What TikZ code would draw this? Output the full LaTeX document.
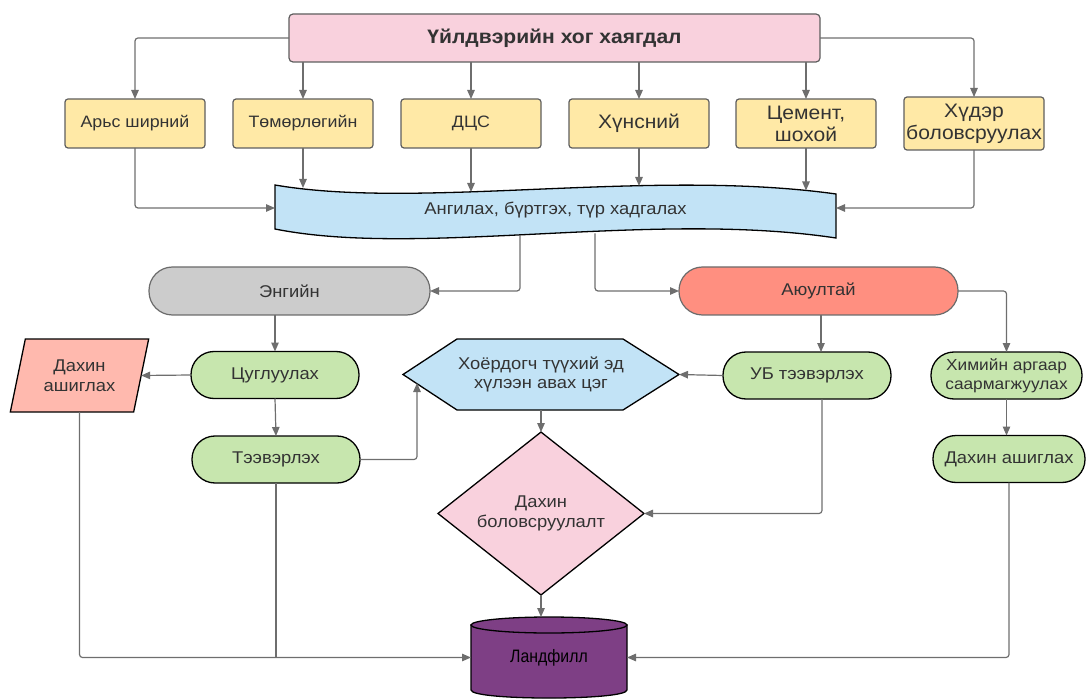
\documentclass[tikz,border=0pt]{standalone}
\usepackage{fontspec}
\setmainfont{Liberation Sans}[FakeStretch=1.08]
\newfontfamily\landfont{Liberation Sans}
\usetikzlibrary{shapes.geometric,shapes.misc,arrows.meta,backgrounds}
\definecolor{txt}{HTML}{333333}
\definecolor{bordg}{HTML}{5E5E5E}
\definecolor{bordo}{HTML}{6B6B6B}
\definecolor{lineg}{HTML}{6E6E6E}
\definecolor{pinkc}{HTML}{F9D1DD}
\definecolor{yel}{HTML}{FFE9A6}
\definecolor{bluec}{HTML}{C2E3F6}
\definecolor{grayc}{HTML}{CCCCCC}
\definecolor{salm}{HTML}{FF8F80}
\definecolor{parac}{HTML}{FFB9AE}
\definecolor{grn}{HTML}{C7E6AE}
\definecolor{purp}{HTML}{7E3F85}
\begin{document}
\begin{tikzpicture}[x=1pt,y=-1pt,
 every node/.style={text=txt, align=center, outer sep=0pt, inner sep=1pt, font=\fontsize{17}{19.5}\selectfont},
 ybox/.style={draw=bordg, fill=yel, rounded corners=3pt, line width=1.2pt, minimum width=140pt, minimum height=49pt},
 pill/.style={rectangle, rounded corners=23pt, draw=black, fill=grn, line width=1.3pt, minimum height=47pt},
 oval/.style={rectangle, rounded corners=23.5pt, draw=bordo, line width=1.2pt, minimum height=48pt},
 conn/.style={draw=lineg, line width=1.2pt, rounded corners=3pt, -{Triangle[length=9pt,width=7.5pt]}},
 plainline/.style={draw=lineg, line width=1.2pt, rounded corners=3pt}]
\useasboundingbox (0,0) rectangle (1086,700);

% top
\node[draw=bordg, fill=pinkc, rounded corners=4pt, line width=1.2pt, minimum width=531pt, minimum height=48pt, font=\bfseries\fontsize{19.5}{22}\selectfont] (top) at (554.5,38) {Үйлдвэрийн хог хаягдал};

% categories
\node[ybox, font=\fontsize{16.5}{19}\selectfont] (b1) at (135,123.5) {Арьс ширний};
\node[ybox, font=\fontsize{16.5}{19}\selectfont] (b2) at (303,123.5) {Төмөрлөгийн};
\node[ybox, font=\fontsize{16.5}{19}\selectfont] (b3) at (471,123.5) {ДЦС};
\node[ybox, font=\fontsize{19.5}{22}\selectfont] (b4) at (639,123.5) {Хүнсний};
\node[ybox, font=\fontsize{19.5}{22}\selectfont] (b5) at (806,123.5) {Цемент,\\шохой};
\node[ybox, font=\fontsize{19.5}{22}\selectfont, minimum height=53pt, inner sep=0pt] (b6) at (974,123.5) {Хүдэр\\боловсруулах};

% wave
\node[minimum width=561pt, minimum height=44pt] (wave) at (555.5,210) {Ангилах, бүртгэх, түр хадгалах};
\coordinate (w1) at (275,208);
\coordinate (w2) at (303,188);
\coordinate (w3) at (471,192);
\coordinate (w4) at (639,186);
\coordinate (w5) at (806,190.5);
\coordinate (w6) at (836,208);
\coordinate (wb1) at (520,235);
\coordinate (wb2) at (595,233.5);

% second level
\node[oval, fill=grayc, minimum width=281pt] (eng) at (289.5,291) {Энгийн};
\node[oval, fill=salm, minimum width=279pt] (ayu) at (818.5,291) {Аюултай};

\node[pill, minimum width=168pt] (col) at (275,375) {Цуглуулах};
\node[trapezium, trapezium left angle=73, trapezium right angle=107, trapezium stretches=true, draw=black, fill=parac, line width=1.3pt, minimum width=139pt, minimum height=73pt] (para) at (79.5,375.5) {Дахин\\ашиглах};
\node[minimum width=276pt, minimum height=71pt] (hex) at (541,374.5) {Хоёрдогч түүхий эд\\хүлээн авах цэг};
\node[pill, minimum width=168pt] (ub) at (807,375.5) {УБ тээвэрлэх};
\node[pill, minimum width=151pt, font=\fontsize{16}{19.5}\selectfont] (chem) at (1006.5,375.5) {Химийн аргаар\\саармагжуулах};

\node[pill, minimum width=168pt] (trans) at (276,459.5) {Тээвэрлэх};
\node[pill, minimum width=152pt] (reuse) at (1009,459) {Дахин ашиглах};
\node[diamond, draw=black, fill=pinkc, line width=1.3pt, minimum width=206pt, minimum height=129pt, inner sep=0pt] (dia) at (541,513.5) {Дахин\\боловсруулалт};

\node[minimum width=156pt, minimum height=81pt, inner sep=0pt, text=black, font=\landfont\fontsize{18}{20}\selectfont] (land) at (549,657.5) {\raisebox{-6pt}{\scalebox{0.88}[1]{Ландфилл}}};

\begin{pgfonlayer}{background}
\draw[fill=bluec, line width=1.3pt] (275,185) .. controls (420,210) and (650,168) .. (836,194) -- (836,238) .. controls (650,210) and (420,258) .. (275,229) -- cycle;
\draw[fill=bluec, line width=1.3pt] (hex.west) -- ([xshift=54pt]hex.north west) -- ([xshift=-56pt]hex.north east) -- (hex.east) -- ([xshift=-56pt]hex.south east) -- ([xshift=54pt]hex.south west) -- cycle;
\draw[fill=purp, line width=1.3pt] (471,625) -- (471,690) .. controls (471,700.7) and (627,700.7) .. (627,690) -- (627,625) -- cycle;
\draw[fill=purp, line width=1.3pt] (549,625) ellipse [x radius=78, y radius=8];
\end{pgfonlayer}

% connectors
\draw[conn] (top.west) -| (b1.north);
\draw[conn] (top.east) -| (b6.north);
\foreach \b in {b2,b3,b4,b5} \draw[conn] (\b.north |- top.south) -- (\b.north);
\draw[conn] (b1.south) |- (w1);
\draw[conn] (b6.south) |- (w6);
\draw[conn] (b2.south) -- (w2);
\draw[conn] (b3.south) -- (w3);
\draw[conn] (b4.south) -- (w4);
\draw[conn] (b5.south) -- (w5);
\draw[conn] (wb1) |- (eng.east);
\draw[conn] (wb2) |- (ayu.west);
\draw[conn] (col.north |- eng.south) -- (col.north);
\draw[conn] ([xshift=14pt]ub.north |- ayu.south) -- ([xshift=14pt]ub.north);
\draw[conn] (ayu.east) -| (chem.north);
\draw[conn] (col.west) -- (para.east);
\draw[conn] (col.south) -- (trans.north);
\coordinate (hexin) at (417,383);
\draw[conn] (trans.east) -| (hexin);
\draw[conn] (ub.west) -- (hex.east);
\draw[conn] (hex.south) -- (dia.north);
\draw[conn] ([xshift=15pt]ub.south) |- (dia.east);
\draw[conn] (chem.south) -- (chem.south |- reuse.north);
\draw[conn] (dia.south) -- (dia.south |- land.north);
\draw[conn] (para.center |- para.south) |- (land.west);
\draw[plainline] (trans.south) -- (trans.south |- land.west);
\draw[conn] (reuse.south) |- (land.east);
\end{tikzpicture}
\end{document}
